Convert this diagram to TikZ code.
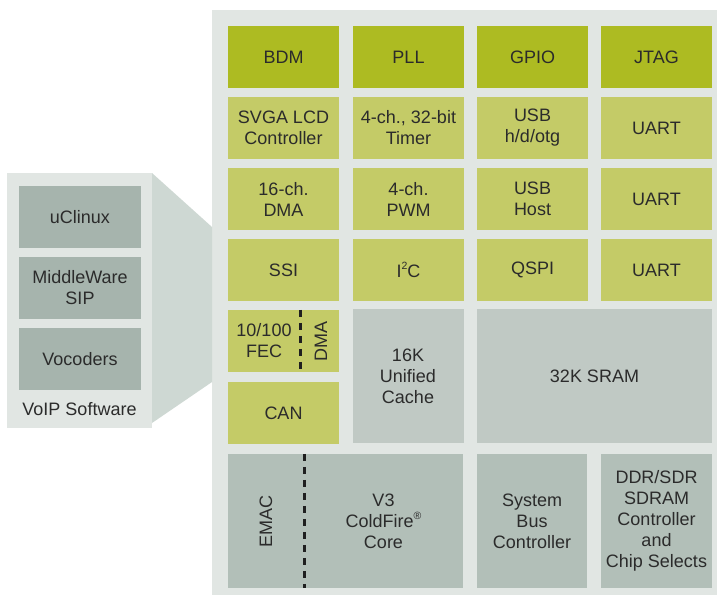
\documentclass[tikz,border=0pt]{standalone}
\usepackage{fontspec}
\setmainfont{Liberation Sans}
\definecolor{panelbg}{HTML}{E1E6E3}
\definecolor{funnel}{HTML}{CED8D3}
\definecolor{dkgreen}{HTML}{ADBB22}
\definecolor{ltgreen}{HTML}{C4CB67}
\definecolor{memgray}{HTML}{C0C9C4}
\definecolor{coregray}{HTML}{B2BFB8}
\definecolor{softgray}{HTML}{A6B4AD}
\definecolor{txt}{HTML}{2B2B2B}
% small raised marks (superscript digits, registered sign)
\newcommand\smallsup[1]{\raisebox{0.42em}{\fontsize{10.5}{10.5}\selectfont #1}}
\tikzset{
  blk/.style={rectangle, draw=none, inner sep=0pt, align=center, text=txt,
    font=\fontsize{18}{21}\selectfont, minimum width=111pt, minimum height=62pt},
  tall/.style={minimum height=134pt},
  wide/.style={minimum width=235pt},
  lbl/.style={inner sep=0pt, align=center, text=txt, font=\fontsize{18}{21}\selectfont},
  divider/.style={draw=black!88, line width=3pt, dash pattern=on 7.5pt off 5.5pt}
}
\begin{document}
\begin{tikzpicture}[x=1pt,y=-1pt]
\useasboundingbox (0,0) rectangle (717,595);
% main chip panel
\fill[panelbg] (212,10) rectangle (717,595);
% software panel and its funnel
\fill[panelbg] (7,173) rectangle (152,428);
\fill[funnel] (152,173) -- (212,227) -- (212,382) -- (152,423) -- cycle;
\node[blk, fill=softgray, minimum width=122pt] (uclinux) at (80,217) {uClinux};
\node[blk, fill=softgray, minimum width=122pt] (mw) at (80,288) {MiddleWare\\SIP};
\node[blk, fill=softgray, minimum width=122pt] (voc) at (80,359) {Vocoders};
\node[lbl] (soft) at (79.5,409) {VoIP Software};
% row 1
\node[blk, fill=dkgreen] (bdm)  at (283.5,57) {BDM};
\node[blk, fill=dkgreen] (pll)  at (408.5,57) {PLL};
\node[blk, fill=dkgreen] (gpio) at (532.5,57) {GPIO};
\node[blk, fill=dkgreen] (jtag) at (656.5,57) {JTAG};
% row 2
\node[blk, fill=ltgreen] (lcd)    at (283.5,128) {SVGA LCD\\Controller};
\node[blk, fill=ltgreen] (timer)  at (408.5,128) {4-ch., 32-bit\\Timer};
\node[blk, fill=ltgreen] (usbotg) at (532.5,128) {USB\\h/d/otg};
\node[blk, fill=ltgreen] (uarta)  at (656.5,128) {UART};
% row 3
\node[blk, fill=ltgreen] (dma)     at (283.5,199) {16-ch.\\DMA};
\node[blk, fill=ltgreen] (pwm)     at (408.5,199) {4-ch.\\PWM};
\node[blk, fill=ltgreen] (usbhost) at (532.5,199) {USB\\Host};
\node[blk, fill=ltgreen] (uartb)   at (656.5,199) {UART};
% row 4
\node[blk, fill=ltgreen] (ssi)   at (283.5,270) {SSI};
\node[blk, fill=ltgreen] (iic)   at (408.5,270) {I\smallsup{2}C};
\node[blk, fill=ltgreen] (qspi)  at (532.5,270) {QSPI};
\node[blk, fill=ltgreen] (uartc) at (656.5,270) {UART};
% ethernet, CAN and memories
\node[blk, fill=ltgreen] (fec) at (283.5,341) {};
\node[lbl] (fectxt) at (264,341) {10/100\\FEC};
\node[lbl, rotate=90] (fecdma) at (321,341) {DMA};
\coordinate (fecdiv) at (300,0);
\draw[divider] (fec.north -| fecdiv) -- (fec.south -| fecdiv);
\node[blk, fill=ltgreen] (can) at (283.5,413) {CAN};
\node[blk, tall, fill=memgray] (cache) at (408,376) {16K\\Unified\\Cache};
\node[blk, tall, wide, fill=memgray] (sram) at (594.5,376) {32K SRAM};
% bottom row
\node[blk, tall, wide, fill=coregray] (core) at (345.5,521) {};
\node[lbl, rotate=90] (emac) at (266,521) {EMAC};
\node[lbl] (v3) at (383.5,521) {V3\\ColdFire\smallsup{®}\\Core};
\coordinate (corediv) at (304,0);
\draw[divider] (core.north -| corediv) -- (core.south -| corediv);
\node[blk, tall, fill=coregray, minimum width=110pt] (sbc) at (532,521) {System\\Bus\\Controller};
\node[blk, tall, fill=coregray] (ddr) at (656.5,521) {DDR/SDR\\SDRAM\\Controller\\and\\Chip Selects};
\end{tikzpicture}
\end{document}
